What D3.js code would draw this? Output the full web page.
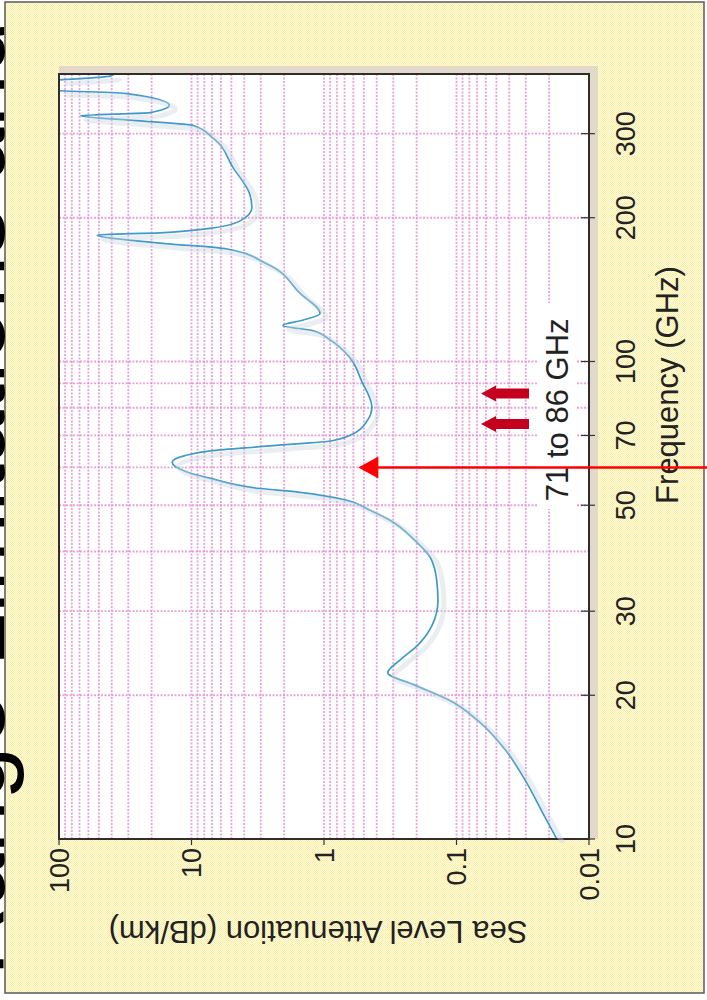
<!DOCTYPE html>
<html><head><meta charset="utf-8">
<script src="https://cdn.jsdelivr.net/npm/d3@7"></script>
<style>html,body{margin:0;padding:0;background:#fff;} svg{display:block;}</style>
</head><body>
<svg id="c" width="707" height="1000"></svg>
<script>
// ---- data ----
const freqGHz = [10, 11.3, 13.3, 15.4, 17.7, 19.5, 21.0, 22.3, 23.7, 25.5, 28.0, 31.6, 34.8, 38.9, 42.2, 46.5, 48.8, 51.2, 53.2, 54.2, 56.9, 58.9, 61.5, 63.5, 65.0, 66.3, 67.3, 68.0, 70, 75.3, 80.2, 91, 102, 111, 116, 119, 122, 126, 139, 160, 172, 177, 184, 186, 190, 197, 210, 224, 255, 294, 312, 319, 327, 332, 344, 364, 369, 375, 382, 389, 396, 400];
const attenDbKm = [0.0175, 0.0222, 0.0304, 0.043, 0.0689, 0.112, 0.206, 0.33, 0.267, 0.195, 0.153, 0.138, 0.141, 0.158, 0.206, 0.318, 0.45, 0.67, 1.52, 3.04, 7.2, 11.2, 14, 11.2, 7.2, 3.04, 1.52, 0.95, 0.64, 0.47, 0.435, 0.52, 0.64, 0.90, 1.21, 2.04, 1.45, 1.07, 1.52, 2.69, 5.4, 17.3, 51.6, 17.3, 7.24, 4.3, 3.5, 3.63, 4.87, 6.9, 9.7, 24.5, 69, 20.6, 14.7, 30.7, 98, 300, 400, 100, 41, 38];
const freqTicks = [10, 20, 30, 50, 70, 100, 200, 300];
const freqTickLabels = ["10", "20", "30", "50", "70", "100", "200", "300"];
const attenTicks = [100, 10, 1, 0.1, 0.01];
const attenTickLabels = ["100", "10", "1", "0.1", "0.01"];
const bandArrowFreqs = [74, 85.7];
const bandLabel = "71 to 86 GHz";
const bandLabelFreq = 51;
const xTitle = "Frequency (GHz)";
const yTitle = "Sea Level Attenuation (dB/km)";
const slideTitle = "E-band: Range Limitations and Weather";
const pointerFreq = 60, pointerAtten = 0.55;

// ---- layout ----
const X0 = 59, Y0 = 839, L = 765, H = 530;
const FONT = "'Liberation Sans', Arial, Helvetica, sans-serif";

const svg = d3.select("#c");
const defs = svg.append("defs");
const pat = defs.append("pattern").attr("id", "bg").attr("width", 2).attr("height", 2)
  .attr("patternUnits", "userSpaceOnUse");
pat.append("rect").attr("width", 2).attr("height", 2).attr("fill", "#fffce8");
pat.append("rect").attr("width", 1).attr("height", 1).attr("fill", "#faee9e");
pat.append("rect").attr("x", 1).attr("y", 1).attr("width", 1).attr("height", 1).attr("fill", "#faee9e");
defs.append("clipPath").attr("id", "clip").append("rect").attr("width", L).attr("height", H);

// slide background
svg.append("rect").attr("x", 5).attr("y", 2).attr("width", 699).attr("height", 991)
  .attr("fill", "url(#bg)").attr("stroke", "#5a5a5a").attr("stroke-width", 1.5);

const x = d3.scaleLog().domain([10, 400]).range([0, L]);
const y = d3.scaleLog().domain([0.01, 100]).range([H, 0]);

const g = svg.append("g").attr("transform", `translate(${X0},${Y0}) rotate(-90)`);

// plot shadow + background
g.append("rect").attr("x", 0).attr("y", 0).attr("width", L + 8).attr("height", H + 9)
  .attr("fill", "#d9cfcc").attr("opacity", 0.75);
g.append("rect").attr("width", L).attr("height", H).attr("fill", "#ffffff");

// grid
const gridColor = "#e384d2";
g.append("g").selectAll("line").data(x.ticks()).join("line")
  .attr("x1", d => x(d)).attr("x2", d => x(d)).attr("y1", 0).attr("y2", H)
  .attr("stroke", gridColor).attr("stroke-width", 1.8).attr("stroke-dasharray", "2 1.5").attr("opacity", 0.75);
g.append("g").selectAll("line").data(y.ticks()).join("line")
  .attr("y1", d => y(d)).attr("y2", d => y(d)).attr("x1", 0).attr("x2", L)
  .attr("stroke", gridColor).attr("stroke-width", 1.8).attr("stroke-dasharray", "2 1.5").attr("opacity", 0.75);

// band label with white background
g.append("rect").attr("x", x(bandLabelFreq) - 8).attr("y", 478).attr("width", 206).attr("height", 40)
  .attr("fill", "#ffffff");
g.append("text").attr("x", x(bandLabelFreq)).attr("y", 509).attr("font-family", FONT)
  .attr("font-size", 31).attr("fill", "#222").text(bandLabel);

// band arrows
const arrowPath = (u) => {
  const tip = 422, hb = 437, tail = 470, hw = 8, sw = 5;
  return `M${u},${tip} L${u + hw},${hb} L${u + sw},${hb} L${u + sw},${tail} L${u - sw},${tail} L${u - sw},${hb} L${u - hw},${hb} Z`;
};
g.append("g").selectAll("path").data(bandArrowFreqs).join("path")
  .attr("d", d => arrowPath(x(d))).attr("fill", "#c4001e");

// curve
const line = d3.line().x((d, i) => x(freqGHz[i])).y((d, i) => y(attenDbKm[i])).curve(d3.curveMonotoneX);
const gs = svg.append("g").attr("transform", `translate(${X0 + 6},${Y0 + 4}) rotate(-90)`);
gs.append("path").datum(freqGHz).attr("d", line).attr("fill", "none")
  .attr("stroke", "#c9d4de").attr("stroke-width", 5).attr("opacity", 0.4)
  .attr("clip-path", "url(#clip)");
g.append("path").datum(freqGHz).attr("d", line).attr("fill", "none")
  .attr("stroke", "#3f9acb").attr("stroke-width", 1.7).attr("clip-path", "url(#clip)");

// frame
g.append("rect").attr("width", L).attr("height", H).attr("fill", "none")
  .attr("stroke", "#2e2e2e").attr("stroke-width", 2);

// ticks
g.append("g").selectAll("line").data(freqTicks).join("line")
  .attr("x1", d => x(d)).attr("x2", d => x(d)).attr("y1", H - 8).attr("y2", H + 6)
  .attr("stroke", "#333").attr("stroke-width", 1.2);
g.append("g").selectAll("line").data(attenTicks).join("line")
  .attr("y1", d => y(d)).attr("y2", d => y(d)).attr("x1", -6).attr("x2", 0)
  .attr("stroke", "#333").attr("stroke-width", 1.2);

// tick labels
g.append("g").selectAll("text").data(freqTicks).join("text")
  .attr("x", d => x(d)).attr("y", H + 46).attr("text-anchor", "middle")
  .attr("font-family", FONT).attr("font-size", 27).attr("fill", "#222")
  .text((d, i) => freqTickLabels[i]);
g.append("g").selectAll("text").data(attenTicks).join("text")
  .attr("x", -9).attr("y", d => y(d)).attr("dy", "0.36em").attr("text-anchor", "end")
  .attr("font-family", FONT).attr("font-size", 27).attr("fill", "#222")
  .text((d, i) => attenTickLabels[i]);

// axis titles
g.append("text").attr("x", 454).attr("y", 619).attr("text-anchor", "middle")
  .attr("font-family", FONT).attr("font-size", 31).attr("fill", "#222").text(xTitle);
g.append("text").attr("transform", `translate(-82,${259}) rotate(-90)`).attr("text-anchor", "middle")
  .attr("font-family", FONT).attr("font-size", 31).attr("fill", "#222").text(yTitle);

// red pointer arrow
const px = X0 + y(pointerAtten), py = Y0 - x(pointerFreq);
svg.append("line").attr("x1", 707).attr("x2", px + 16).attr("y1", py).attr("y2", py)
  .attr("stroke", "#ff0000").attr("stroke-width", 2.5);
svg.append("path").attr("d", `M${px},${py} L${px + 20},${py - 11} L${px + 20},${py + 11} Z`)
  .attr("fill", "#ff0000");

// slide title (mostly cropped off the left edge)
svg.append("text").attr("transform", `translate(4,${1339}) rotate(-90)`)
  .attr("font-family", FONT).attr("font-size", 96).attr("fill", "#000").text(slideTitle);
</script>
</body></html>
